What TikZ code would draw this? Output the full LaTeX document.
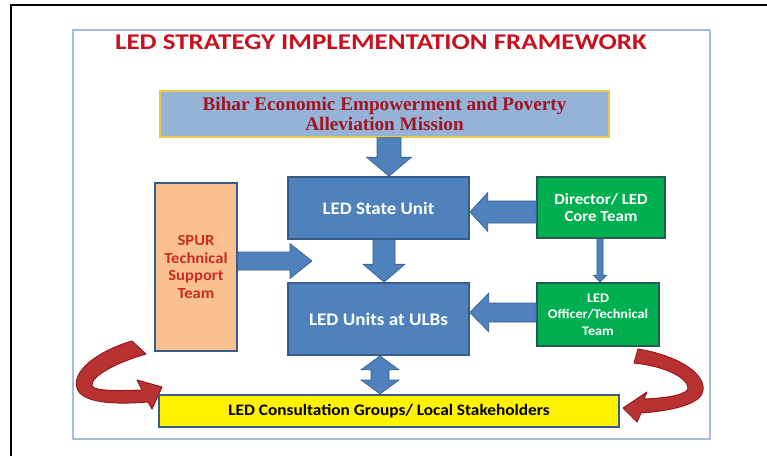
\documentclass[tikz,border=0pt]{standalone}
\usepackage{fontspec}
\newfontfamily\carl{Carlito}[FakeStretch=1.08]
\newfontfamily\carlwide{Carlito}[FakeStretch=1.2]
\newfontfamily\tnr{Liberation Serif}
\usetikzlibrary{calc}
\definecolor{titlered}{RGB}{200,16,30}
\definecolor{biharfill}{RGB}{149,179,215}
\definecolor{gold}{RGB}{235,200,70}
\definecolor{bihartext}{RGB}{160,20,35}
\definecolor{blk}{RGB}{79,129,189}
\definecolor{blkedge}{RGB}{56,93,138}
\definecolor{peach}{RGB}{250,192,144}
\definecolor{spurred}{RGB}{200,45,35}
\definecolor{grn}{RGB}{0,176,80}
\definecolor{grnedge}{RGB}{40,90,85}
\definecolor{framecol}{RGB}{165,188,218}
\definecolor{arrowred}{RGB}{185,50,50}
\definecolor{arrowedge}{RGB}{150,25,30}
\newcommand\vdown[6]{%
 \path (#1.south -| #3,0) coordinate (tA) (#2.north -| #3,0) coordinate (tB);
 \filldraw[blockarr] ($(tA)+(-#4,0)$) -- ($(tB)+(-#4,-#6)$) -- ($(tB)+(-#5,-#6)$) -- (tB) -- ($(tB)+(#5,-#6)$) -- ($(tB)+(#4,-#6)$) -- ($(tA)+(#4,0)$) -- cycle;}
\newcommand\hleft[6]{%
 \path (#1.west |- 0,#3) coordinate (tA) (#2.east |- 0,#3) coordinate (tB);
 \filldraw[blockarr] ($(tA)+(0,-#4)$) -- ($(tB)+(#6,-#4)$) -- ($(tB)+(#6,-#5)$) -- (tB) -- ($(tB)+(#6,#5)$) -- ($(tB)+(#6,#4)$) -- ($(tA)+(0,#4)$) -- cycle;}
\tikzset{
 blockarr/.style={fill=blk, draw=blkedge, line width=0.6pt},
 boxbase/.style={rectangle, inner sep=0pt, align=center},
 bluebox/.style={boxbase, fill=blk, draw=blkedge, line width=1.6pt, text=white},
 greenbox/.style={boxbase, fill=grn, draw=grnedge, line width=1.6pt, text=white},
 redarrow/.style={fill=arrowred, draw=arrowedge, line width=1pt, line join=round},
}
\begin{document}
\begin{tikzpicture}[x=1pt,y=-1pt]
\useasboundingbox (0,0) rectangle (767,456);
% frames
\draw[line width=2pt] (11,456) -- (11,5) -- (767,5);
\draw[framecol, line width=1.3pt] (73,30) rectangle (710,439);
% title
\node[font=\carlwide\bfseries\fontsize{22.5}{26}\selectfont, text=titlered] (title) at (381,42) {LED STRATEGY IMPLEMENTATION FRAMEWORK};
% boxes
\node[boxbase, fill=biharfill, draw=gold, line width=1.2pt, minimum width=449pt, minimum height=46pt,
      font=\tnr\bfseries\fontsize{19.2}{20}\selectfont, text=bihartext] (bihar) at (384.5,114)
      {Bihar Economic Empowerment and Poverty\\Alleviation Mission};
\node[bluebox, minimum width=181pt, minimum height=62pt, font=\carl\bfseries\fontsize{17.5}{20}\selectfont] (state) at (378.5,208) {LED State Unit};
\node[bluebox, minimum width=181pt, minimum height=72pt, font=\carl\bfseries\fontsize{17.7}{20}\selectfont] (ulb) at (378.5,319) {LED Units at ULBs};
\node[boxbase, fill=peach, draw=blkedge, line width=1.6pt, minimum width=82pt, minimum height=168pt,
      font=\carl\bfseries\fontsize{15.4}{17.7}\selectfont, text=spurred] (spur) at (196,267) {SPUR\\Technical\\Support\\Team};
\node[greenbox, minimum width=128pt, minimum height=61pt, font=\carl\bfseries\fontsize{15.5}{17}\selectfont] (director) at (601,207.5) {Director/ LED\\Core Team};
\node[greenbox, minimum width=122pt, minimum height=63pt, font=\carl\bfseries\fontsize{13.2}{16.5}\selectfont] (officer) at (598,314.5) {LED\\Officer/Technical\\Team};
\node[boxbase, fill=yellow, draw=blkedge, line width=2pt, minimum width=460pt, minimum height=32pt,
      font=\carl\bfseries\fontsize{16}{18}\selectfont] (stake) at (389,411) {LED Consultation Groups/ Local Stakeholders};
% block arrows
\vdown{bihar}{state}{389}{12}{22.5}{19}
\vdown{state}{ulb}{384}{11}{21}{18}
\hleft{director}{state}{212}{11}{19.5}{18}
\hleft{officer}{ulb}{312.5}{9.5}{19.5}{19}
\vdown{director}{officer}{600}{3}{6.5}{7}
\coordinate (spurtip) at (312,261);
\path (spur.east |- 0,261) coordinate (sA);
\filldraw[blockarr] ($(sA)+(0,-9)$) -- ($(spurtip)+(-22,-9)$) -- ($(spurtip)+(-22,-17.5)$) -- (spurtip)
  -- ($(spurtip)+(-22,17.5)$) -- ($(spurtip)+(-22,9)$) -- ($(sA)+(0,9)$) -- cycle;
\path (ulb.south -| 380,0) coordinate (dA) (stake.north -| 380,0) coordinate (dB);
\filldraw[blockarr] (dA) -- ($(dA)+(19,14)$) -- ($(dA)+(9,14)$) -- ($(dB)+(9,-14)$) -- ($(dB)+(19,-14)$) -- (dB)
  -- ($(dB)+(-19,-14)$) -- ($(dB)+(-9,-14)$) -- ($(dA)+(-9,14)$) -- ($(dA)+(-19,14)$) -- cycle;
% curved red arrows
\filldraw[redarrow] (132,341) .. controls (95,352) and (72,372) .. (77,388)
  .. controls (81,402) and (110,405) .. (148,402) -- (152,409) -- (162,387) -- (137,380) -- (142,390)
  .. controls (115,391) and (95,391) .. (92,386) .. controls (90,376) and (118,362) .. (146,354) -- cycle;
\filldraw[redarrow] (638,349) .. controls (675,355) and (705,372) .. (703,390)
  .. controls (702,402) and (680,410) .. (641,413) -- (637,422) -- (623,408) -- (647,392) -- (644,399)
  .. controls (670,398) and (688,394) .. (688,388) .. controls (688,378) and (665,366) .. (634,363) -- cycle;
\end{tikzpicture}
\end{document}
